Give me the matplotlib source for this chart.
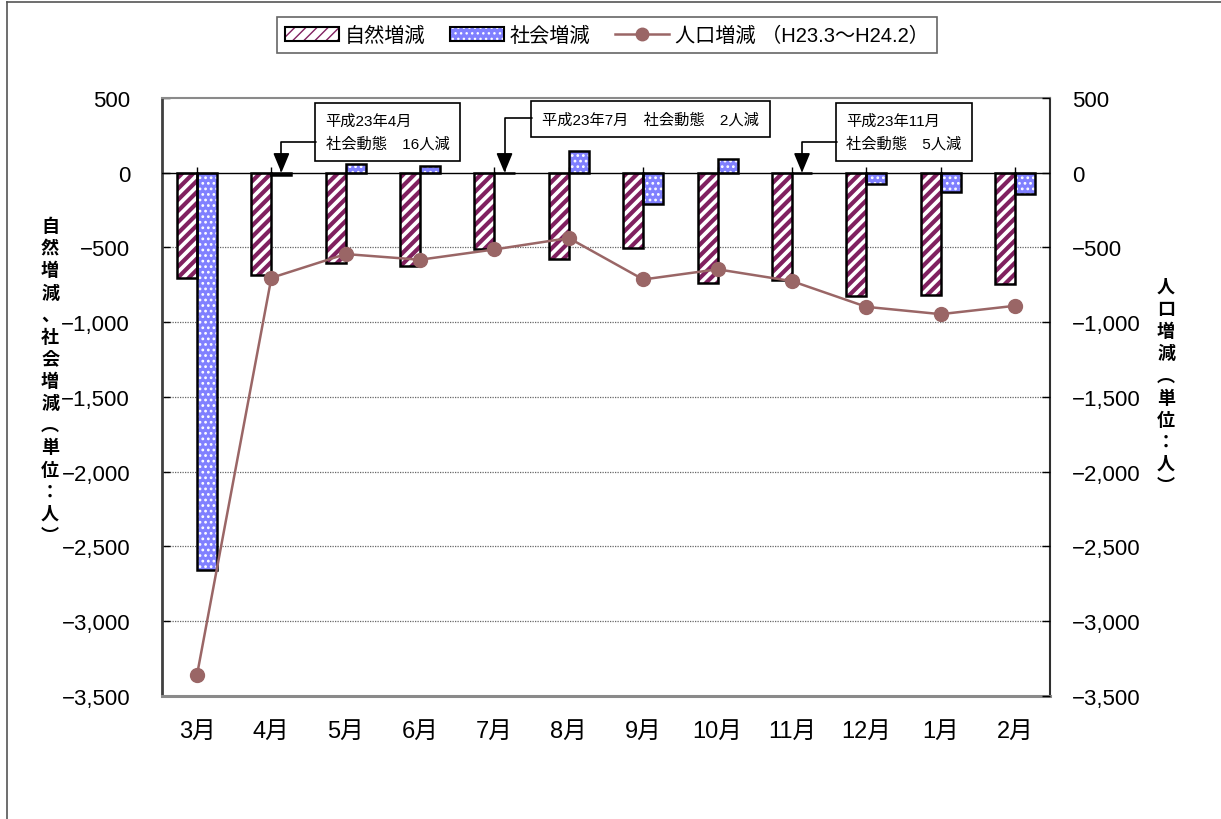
import numpy as np
import matplotlib
matplotlib.use('Agg')
import matplotlib.pyplot as plt
from matplotlib.patches import Patch
from matplotlib.lines import Line2D
from matplotlib.ticker import FuncFormatter, MultipleLocator

plt.rcParams['font.family'] = ['Liberation Sans', 'Noto Sans CJK JP', 'DejaVu Sans']

# data (H23.3 - H24.2)
months = ['3月', '4月', '5月', '6月', '7月', '8月', '9月', '10月', '11月', '12月', '1月', '2月']
natural = [-703, -687, -604, -624, -511, -580, -502, -738, -720, -823, -819, -745]
social = [-2657, -16, 60, 42, -2, 143, -212, 92, -5, -74, -127, -145]
population = [-3360, -703, -544, -582, -513, -437, -714, -646, -725, -897, -946, -890]

# callouts: (month index, text)
notes = [(1, '平成23年4月\n社会動態\u300016人減'),
         (4, '平成23年7月\u3000社会動態\u30002人減'),
         (8, '平成23年11月\n社会動態\u30005人減')]

PURPLE = '#80205f'
BLUE = '#8080ff'
LINE = '#9a6666'

fig = plt.figure(figsize=(12.21, 8.2), dpi=100)
ax = fig.add_axes([0.1327, 0.15, 0.7273, 0.7293])

x = np.arange(len(months))
w = 0.27

# grid
for v in range(-3000, 0, 500):
    ax.axhline(v, color='#666666', lw=0.9, ls=(0, (1, 1)), zorder=0)

with plt.rc_context({'hatch.linewidth': 3.0}):
    ax.bar(x - w / 2, natural, w, color='white', hatch='///', edgecolor=PURPLE, linewidth=0, zorder=2)
with plt.rc_context({'hatch.linewidth': 1.2}):
    ax.bar(x + w / 2, social, w, color=BLUE, hatch='...', edgecolor='white', linewidth=0, zorder=2)
ax.bar(x - w / 2, natural, w, fill=False, edgecolor='black', linewidth=1.8, zorder=3)
ax.bar(x + w / 2, social, w, fill=False, edgecolor='black', linewidth=1.8, zorder=3)

# category axis crossing at zero
ax.axhline(0, color='black', lw=1.0, zorder=4)
ax.vlines(x, 0, 35, color='black', lw=1.0, zorder=4)

ax.set_xlim(-0.47, len(months) - 0.53)
ax.set_ylim(-3500, 500)
ax.yaxis.set_major_locator(MultipleLocator(500))
fmt = FuncFormatter(lambda v, p: f'{v:,.0f}'.replace('-', '\u2212'))
ax.yaxis.set_major_formatter(fmt)
ax.set_xticks(x)
ax.set_xticklabels(months, fontsize=17)
ax.tick_params(axis='x', length=0, pad=17)
ax.tick_params(axis='y', direction='in', length=6, width=1, labelsize=16, pad=23)

ax.spines['left'].set_color('#404040')
ax.spines['left'].set_linewidth(2)
ax.spines['bottom'].set_color('#8a8a8a')
ax.spines['bottom'].set_linewidth(2.2)
ax.spines['top'].set_color('#8a8a8a')
ax.spines['top'].set_linewidth(1.5)
ax.spines['right'].set_color('#303030')
ax.spines['right'].set_linewidth(1.5)

ax2 = ax.twinx()
ax2.set_ylim(-3500, 500)
ax2.yaxis.set_major_locator(MultipleLocator(500))
ax2.yaxis.set_major_formatter(fmt)
ax2.tick_params(axis='y', direction='in', length=6, width=1, labelsize=16, pad=16)
for s in ax2.spines.values():
    s.set_visible(False)
ax2.plot(x, population, color=LINE, lw=1.8, marker='o', markersize=10, zorder=5)

# callouts with elbow arrows
for i, txt in notes:
    if '\n' in txt:
        bx, by, ey = i + 0.6, 398, 207
    else:
        bx, by, ey = i + 0.51, 405, 368
    ax.text(bx + 0.13, by, txt, fontsize=11, ha='left', va='top', linespacing=1.75,
            bbox=dict(boxstyle='square,pad=0.7', fc='white', ec='black', lw=1.2), zorder=6)
    ax.annotate('', xy=(i + w / 2, 0), xytext=(bx, ey),
                arrowprops=dict(arrowstyle='-|>,head_width=0.5,head_length=1.2', color='black', lw=1.2,
                                connectionstyle='angle,angleA=0,angleB=90,rad=0',
                                shrinkA=0, shrinkB=0), zorder=6)

# vertical axis titles
left_lbl = '自然増減、社会増減\ufe35単位：人\ufe36'
right_lbl = '人口増減\ufe35単位：人\ufe36'
fig.text(0.041, 0.534, '\n'.join(left_lbl), fontsize=13, fontweight='bold', ha='center', va='center',
         linespacing=1.38)
fig.text(0.955, 0.527, '\n'.join(right_lbl), fontsize=13, fontweight='bold', ha='center', va='center',
         linespacing=1.38)

# legend
h_nat = (Patch(facecolor='white', hatch='///', edgecolor=PURPLE, linewidth=0),
         Patch(fill=False, edgecolor='black', linewidth=1.5))
h_soc = (Patch(facecolor=BLUE, hatch='...', edgecolor='white', linewidth=0),
         Patch(fill=False, edgecolor='black', linewidth=1.5))
h_pop = Line2D([], [], color=LINE, lw=1.8, marker='o', markersize=9)
leg = fig.legend([h_nat, h_soc, h_pop], ['自然増減', '社会増減', '人口増減 \uff08H23.3～H24.2\uff09'],
                 loc='upper center', bbox_to_anchor=(0.497, 0.99), ncol=3, fontsize=14.5,
                 frameon=True, fancybox=False, edgecolor='#404040', handlelength=2.7,
                 handletextpad=0.3, columnspacing=1.2, borderpad=0.4)
leg.get_frame().set_linewidth(1.2)

# outer frame
fig.add_artist(Line2D([0.006, 0.006], [0, 0.996], color='#555555', lw=1.2))
fig.add_artist(Line2D([0.006, 1.0], [0.996, 0.996], color='#555555', lw=1.2))

fig.savefig('out.png', dpi=100)
